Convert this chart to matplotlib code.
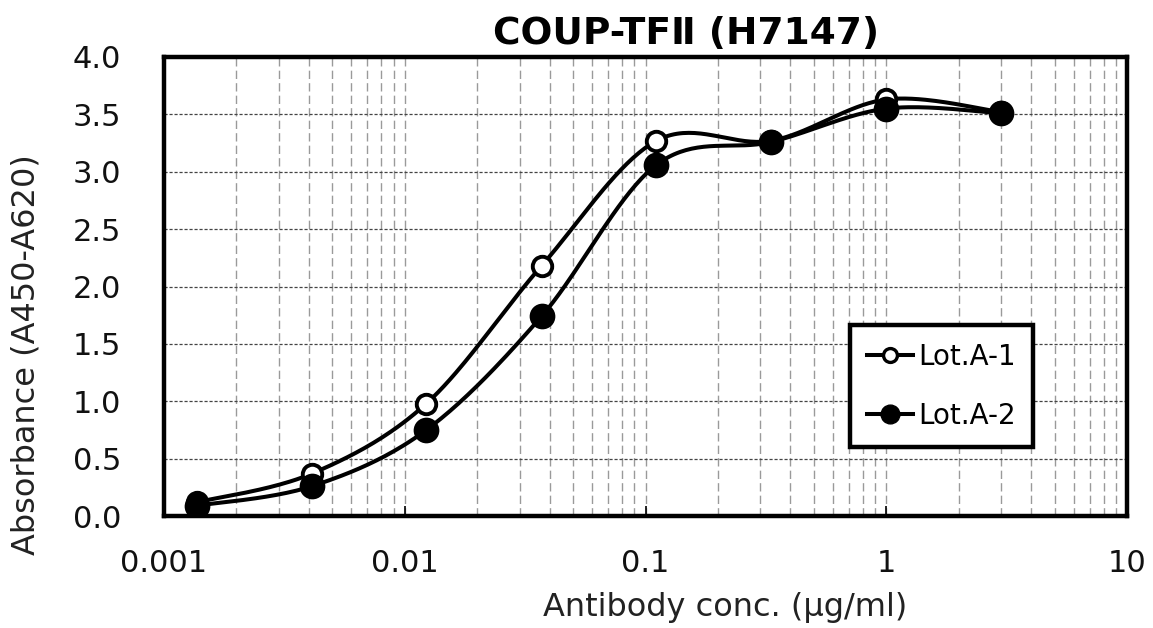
import numpy as np
import matplotlib
matplotlib.use("Agg")
import matplotlib.pyplot as plt
from matplotlib.ticker import LogLocator, NullFormatter, FixedLocator, FixedFormatter

# ---- data ----
conc = [0.00137, 0.00412, 0.0123, 0.037, 0.111, 0.333, 1.0, 3.0]
lot_a1 = [0.12, 0.37, 0.98, 2.18, 3.27, 3.27, 3.63, 3.52]
lot_a2 = [0.09, 0.26, 0.75, 1.74, 3.06, 3.26, 3.55, 3.51]
series_names = ["Lot.A-1", "Lot.A-2"]
x_ticks = [0.001, 0.01, 0.1, 1, 10]
x_tick_labels = ["0.001", "0.01", "0.1", "1", "10"]
y_ticks = [0.0, 0.5, 1.0, 1.5, 2.0, 2.5, 3.0, 3.5, 4.0]
title = "COUP-TF\u2161 (H7147)"
xlabel = "Antibody conc. (\u03bcg/ml)"
ylabel = "Absorbance (A450-A620)"


def smooth(xs, ys, n=40):
    """Catmull-Rom style smoothing (like Excel smoothed lines) in log-x space."""
    lx = np.log10(np.asarray(xs, float))
    y = np.asarray(ys, float)
    P = np.column_stack([lx, y])
    out = []
    m = len(P)
    for i in range(m - 1):
        p0 = P[i - 1] if i > 0 else P[i]
        p1 = P[i]
        p2 = P[i + 1]
        p3 = P[i + 2] if i + 2 < m else P[i + 1]
        c1 = p1 + (p2 - p0) / 6.0
        c2 = p2 - (p3 - p1) / 6.0
        t = np.linspace(0, 1, n)[:, None]
        seg = ((1 - t) ** 3) * p1 + 3 * ((1 - t) ** 2) * t * c1 + 3 * (1 - t) * t ** 2 * c2 + t ** 3 * p2
        out.append(seg if i == 0 else seg[1:])
    pts = np.vstack(out)
    return 10 ** pts[:, 0], pts[:, 1]


plt.rcParams['font.family'] = ['DejaVu Sans']
fig = plt.figure(figsize=(11.53, 6.28), dpi=100)
# axes: left 164px, right 1127px, top 57px, bottom 516px
ax = fig.add_axes([164 / 1153, 1 - 516 / 628, 963 / 1153, 459 / 628])

ax.set_xscale('log')
ax.set_xlim(0.001, 10)
ax.set_ylim(0, 4.0)

ax.xaxis.set_major_locator(FixedLocator(x_ticks))
ax.xaxis.set_major_formatter(FixedFormatter(x_tick_labels))
ax.xaxis.set_minor_locator(LogLocator(base=10, subs=np.arange(2, 10)))
ax.xaxis.set_minor_formatter(NullFormatter())
ax.set_yticks(y_ticks)
ax.set_yticklabels([f"{v:.1f}" for v in y_ticks])

ax.grid(True, which='both', axis='x', color='#9a9a9a', linestyle=(0, (6, 3)), linewidth=1.0)
ax.grid(True, which='major', axis='y', color='#444444', linestyle=(0, (2.5, 1.5)), linewidth=0.9)
ax.set_axisbelow(True)

ax.tick_params(axis='x', which='major', direction='in', length=7, width=1.2, labelsize=22, pad=24)
ax.tick_params(axis='x', which='minor', length=0)
ax.tick_params(axis='y', which='major', length=0, labelsize=22, pad=31)
for lbl in ax.get_xticklabels() + ax.get_yticklabels():
    lbl.set_color('#111111')

for s in ax.spines.values():
    s.set_linewidth(3.2)
    s.set_color('black')

# data
sx1, sy1 = smooth(conc, lot_a1)
sx2, sy2 = smooth(conc, lot_a2)
ax.plot(sx1, sy1, color='black', lw=2.9, zorder=3)
ax.plot(sx2, sy2, color='black', lw=2.9, zorder=3)
ax.plot(conc, lot_a1, linestyle='none', marker='o', markersize=14, markerfacecolor='white',
        markeredgecolor='black', markeredgewidth=2.8, zorder=4)
ax.plot(conc, lot_a2, linestyle='none', marker='o', markersize=16.5, markerfacecolor='black',
        markeredgecolor='black', markeredgewidth=2.0, zorder=5)

# legend handles
h1, = ax.plot([], [], color='black', lw=2.9, marker='o', markersize=10, markerfacecolor='white',
              markeredgecolor='black', markeredgewidth=2.4)
h2, = ax.plot([], [], color='black', lw=2.9, marker='o', markersize=13.5, markerfacecolor='black',
              markeredgecolor='black')
leg = ax.legend([h1, h2], series_names, loc='upper left', bbox_to_anchor=(0.712, 0.416),
                fontsize=20, frameon=True, fancybox=False, handlelength=1.65, handletextpad=0.18,
                labelspacing=1.12, borderpad=0.63, borderaxespad=0.0)
leg.get_frame().set_edgecolor('black')
leg.get_frame().set_linewidth(3.2)
leg.get_frame().set_alpha(1.0)

fig.text(686 / 1153, 1 - 34 / 628, title, fontsize=27, fontweight='bold', ha='center', va='center')
ax.set_xlabel(xlabel, fontsize=23, color='#222222')
ax.xaxis.set_label_coords(0.583, -0.166)
ax.set_ylabel(ylabel, fontsize=23, color='#222222')
ax.yaxis.set_label_coords(-0.127, 0.351)

fig.savefig('out.png', dpi=100)
